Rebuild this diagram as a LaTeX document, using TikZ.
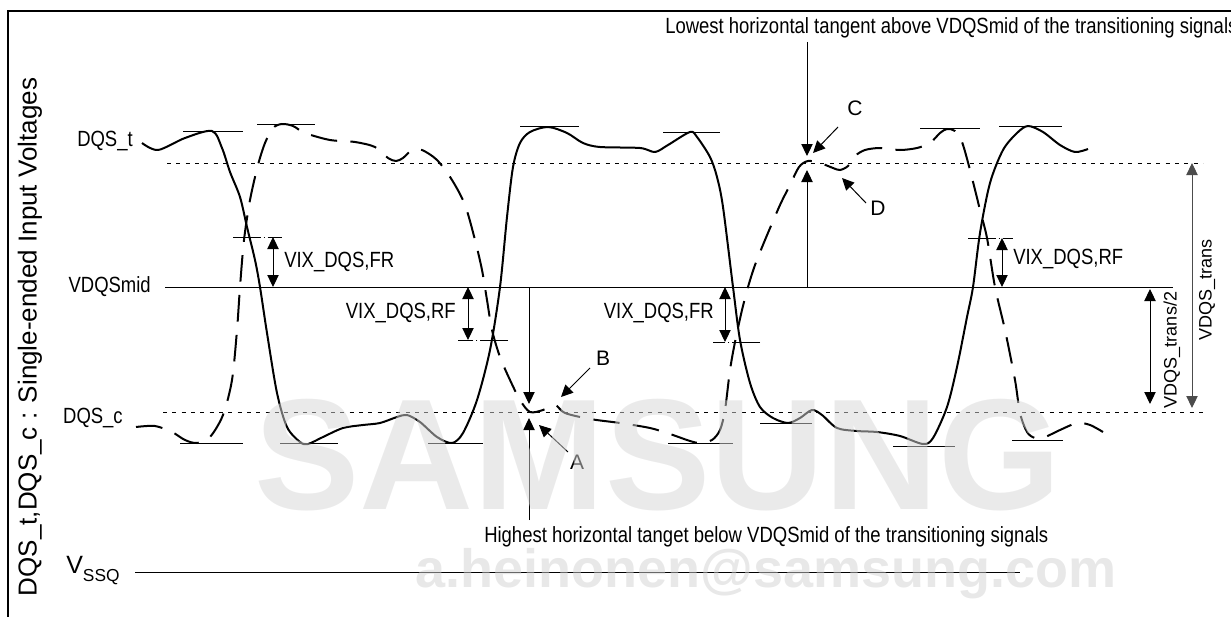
\documentclass[tikz,border=0pt]{standalone}
\usepackage{fontspec}
\setmainfont{Liberation Sans}
\newfontfamily\narrowfont{Liberation Sans}[FakeStretch=0.84]
\usetikzlibrary{arrows.meta}

\begin{document}
\begin{tikzpicture}[x=0.75pt,y=-0.75pt,>={Triangle[length=9pt,width=8.5pt]},
    label node/.style={inner sep=0pt,font=\narrowfont\fontsize{16.5}{18}\selectfont},
    point node/.style={inner sep=0pt,font=\fontsize{15.75}{17}\selectfont},
    side node/.style={inner sep=0pt,rotate=90,font=\fontsize{13.5}{15}\selectfont},
    wave t/.style={line width=1.5pt,line join=round},
    wave c/.style={line width=1.5pt,dash pattern=on 20pt off 10pt},
    level/.style={line width=0.75pt,dash pattern=on 3pt off 4pt},
    tangent/.style={line width=0.75pt},
    vix mark/.style={line width=0.75pt,dash pattern=on 21pt off 2pt on 1pt off 2pt on 20pt},
    dim/.style={<->,line width=0.75pt},
    pointer/.style={->,line width=0.75pt}]
    \useasboundingbox (0,0) rectangle (1231,617);
    \draw[line width=1pt] (8,640) |- (1250,11);

    % levels
    \draw[level] (167,163) -- (1203,163);
    \draw[tangent] (165,287) -- (1173,287);
    \draw[level] (163,412) -- (1203,412);
    \draw[tangent] (135,572) -- (1020,572);

    \node[label node,anchor=east] (dqst) at (133,141) {DQS\_t};
    \node[label node,anchor=east] (mid) at (151,287) {VDQSmid};
    \node[label node,anchor=east] (dqsc) at (123,418) {DQS\_c};
    \node[inner sep=0pt,anchor=base west,font=\fontsize{18.75}{20}\selectfont] (vssq) at (66,573) {V\raisebox{-6pt}{\fontsize{13}{14}\selectfont SSQ}};
    \node[inner sep=0pt,rotate=90,font=\fontsize{19.5}{22}\selectfont] (axis) at (30,337) {DQS\_t,DQS\_c : Single-ended Input Voltages};

    % DQS_t
    \draw[wave t] plot[smooth,tension=0.5] coordinates {(142,143) (158,150) (185,138) (212,131) (222,148) (230,172)
        (240,197) (247,227) (255,260) (260,287) (267,333) (277,393) (287,427) (300,442) (308,444) (323,437)
        (343,428) (363,425) (380,423) (397,417) (407,415) (420,422) (437,437) (452,443) (463,433) (477,400)
        (490,350) (500,287) (507,217) (513,167) (520,143) (530,132) (548,127) (567,133) (583,143) (600,147)
        (640,148) (655,152) (668,145) (690,132) (697,137) (710,157) (717,177) (723,207) (733,287) (740,340)
        (750,383) (760,407) (773,418) (788,423) (800,418) (812,410) (822,415) (837,428) (857,431) (877,432)
        (900,436) (923,444) (933,438) (947,407) (957,367) (967,317) (973,287) (980,233) (990,183) (1003,150)
        (1017,133) (1028,126) (1043,132) (1060,145) (1075,152) (1088,149)};

    % DQS_c
    \draw[wave c] plot[smooth,tension=0.5] coordinates {(136,427) (155,426) (172,432) (185,440) (197,443) (210,437)
        (223,415) (232,380) (237,330) (240,287) (244,240) (250,200) (258,165) (265,143) (273,128) (282,124)
        (293,126) (305,133) (330,140) (355,142) (375,147) (388,158) (396,161) (403,158) (412,150) (422,150)
        (437,160) (452,180) (465,205) (475,240) (482,270) (487,300) (492,330) (500,357) (510,380) (520,400)
        (530,412) (543,410) (555,405) (565,413) (590,419) (620,423) (650,428) (670,434) (690,441) (700,443)
        (712,440) (720,430) (725,410) (730,370) (735,342) (742,310) (748,287) (755,265) (765,240) (780,205)
        (790,185) (799,167) (808,161) (820,163) (833,168) (840,170) (848,166) (855,156) (865,150) (880,148)
        (900,150) (917,148) (930,143) (940,133) (947,129) (955,131) (962,142) (970,170) (980,210) (987,238)
        (995,287) (1005,330) (1015,380) (1020,413) (1027,432) (1035,438) (1045,437) (1060,430) (1077,423)
        (1090,425) (1103,432)};

    % tangents
    \foreach \xa/\xb/\y in {183/243/131,257/315/124,520/579/126,663/720/132,920/980/128,999/1062/126,
        180/243/443,280/338/443,428/483/443,668/733/443,760/812/423,893/955/446,1012/1063/440}
        \draw[tangent] (\xa,\y) -- (\xb,\y);

    % VIX
    \draw[vix mark] (233,237) -- (282,237);
    \draw[vix mark] (508,340) -- (458,340);
    \draw[vix mark] (760,342) -- (713,342);
    \draw[vix mark] (968,238) -- (1013,238);
    \coordinate (fr1a) at (273,237); \coordinate (fr1b) at (273,287);
    \coordinate (rf1a) at (468,287); \coordinate (rf1b) at (468,340);
    \coordinate (fr2a) at (725,287); \coordinate (fr2b) at (725,342);
    \coordinate (rf2a) at (1002,238); \coordinate (rf2b) at (1002,287);
    \draw[dim] (fr1a) -- (fr1b);
    \draw[dim] (rf1a) -- (rf1b);
    \draw[dim] (fr2a) -- (fr2b);
    \draw[dim] (rf2a) -- (rf2b);
    \node[label node,anchor=west] (fr1) at (284,262) {VIX\_DQS,FR};
    \node[label node,anchor=east] (rf1) at (456,313) {VIX\_DQS,RF};
    \node[label node,anchor=east] (fr2) at (714,313) {VIX\_DQS,FR};
    \node[label node,anchor=west] (rf2) at (1013,259) {VIX\_DQS,RF};

    % VDQS_trans
    \coordinate (ha) at (1150,289); \coordinate (hb) at (1150,404);
    \coordinate (ta) at (1192,163); \coordinate (tb) at (1192,408);
    \draw[dim] (ha) -- (hb);
    \draw[dim,draw=black!70] (ta) -- (tb);
    \node[side node] (half) at (1172,350) {VDQS\_trans/2};
    \node[side node] (trans) at (1207,290) {VDQS\_trans};

    % horizontal tangents
    \node[label node,anchor=west] (lowest) at (665,28) {Lowest horizontal tangent above VDQSmid of the transitioning signals};
    \node[label node,anchor=west] (highest) at (484,537) {Highest horizontal tanget below VDQSmid of the transitioning signals};
    \coordinate (lowtop) at (807,42); \coordinate (lowtip) at (807,156);
    \coordinate (lowmid) at (807,287); \coordinate (lowup) at (807,170);
    \coordinate (himid) at (529,287); \coordinate (hitip) at (529,404);
    \coordinate (hibot) at (529,520); \coordinate (hiup) at (529,418);
    \draw[pointer] (lowtop) -- (lowtip);
    \draw[pointer] (lowmid) -- (lowup);
    \draw[pointer] (himid) -- (hitip);
    \draw[pointer] (hibot) -- (hiup);

    \node[point node] (A) at (577,462) {A};
    \node[point node] (B) at (603,358) {B};
    \node[point node] (C) at (855,108) {C};
    \node[point node] (D) at (878,208) {D};
    \coordinate (Atip) at (539,425); \coordinate (Btip) at (561,397);
    \coordinate (Ctip) at (813,153); \coordinate (Dtip) at (842,178);
    \draw[pointer] (568,452) -- (Atip);
    \draw[pointer] (590,368) -- (Btip);
    \draw[pointer] (838,127) -- (Ctip);
    \draw[pointer] (866,203) -- (Dtip);

    % watermark
    \node[inner sep=0pt,opacity=0.5,text=black!16,font=\bfseries\fontsize{118.5}{120}\selectfont] (mark) at (658,455) {SAMSUNG};
    \node[inner sep=0pt,anchor=base,opacity=0.5,text=black!18,font=\bfseries\fontsize{40.5}{42}\selectfont] (mail) at (766,587) {a.heinonen@samsung.com};
\end{tikzpicture}
\end{document}
